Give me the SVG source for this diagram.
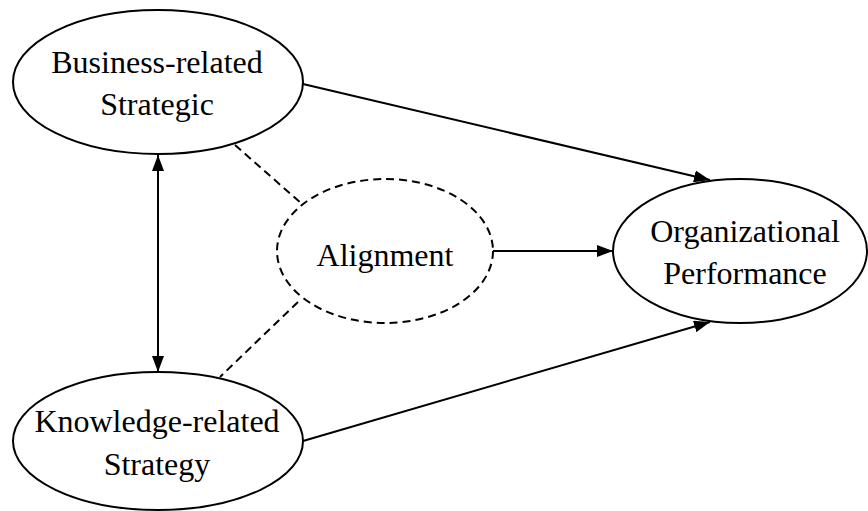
<svg xmlns="http://www.w3.org/2000/svg" width="868" height="511" viewBox="0 0 868 511">
<style>
.node{fill:#fff;stroke:#000;stroke-width:2}
.dash{stroke-dasharray:8 5}
.lbl{font-family:"Liberation Serif","Times New Roman",serif;font-size:32px;fill:#000;text-anchor:middle}
.edge{stroke:#000;stroke-width:2;fill:none}
</style>
<defs>
<marker id="ah" viewBox="0 0 16 12" refX="16" refY="6" markerWidth="16" markerHeight="12" orient="auto-start-reverse" markerUnits="userSpaceOnUse">
<path d="M0,0 L16,6 L0,12 z" fill="#000"/>
</marker>
</defs>
<rect width="868" height="511" fill="#fff"/>
<g id="connectors">
<line class="edge" x1="158" y1="155" x2="158" y2="372" marker-start="url(#ah)" marker-end="url(#ah)"/>
<line class="edge dash" x1="235" y1="145" x2="302" y2="204"/>
<line class="edge dash" x1="298" y1="302" x2="220" y2="377"/>
<line class="edge" x1="493" y1="251" x2="613" y2="251" marker-end="url(#ah)"/>
<line class="edge" x1="303" y1="84" x2="710" y2="180" marker-end="url(#ah)"/>
<line class="edge" x1="303" y1="441" x2="710" y2="322" marker-end="url(#ah)"/>
</g>
<g id="business">
<ellipse class="node" cx="158" cy="82" rx="145" ry="72"/>
<text class="lbl" x="157" y="73">Business-related</text>
<text class="lbl" x="157" y="115">Strategic</text>
</g>
<g id="knowledge">
<ellipse class="node" cx="158" cy="441" rx="145" ry="69"/>
<text class="lbl" x="157" y="432">Knowledge-related</text>
<text class="lbl" x="157" y="475">Strategy</text>
</g>
<g id="alignment">
<ellipse class="node dash" cx="385" cy="251" rx="108" ry="72"/>
<text class="lbl" x="385" y="266">Alignment</text>
</g>
<g id="performance">
<ellipse class="node" cx="740" cy="251" rx="127" ry="72"/>
<text class="lbl" x="745" y="242">Organizational</text>
<text class="lbl" x="745" y="284">Performance</text>
</g>
</svg>
